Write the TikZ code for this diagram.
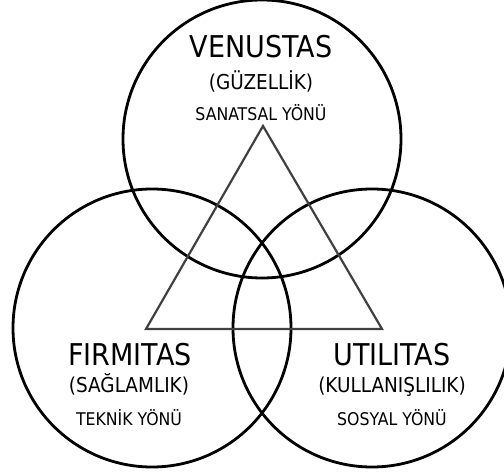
\documentclass[tikz,border=0pt]{standalone}
\usepackage{fontspec}
\setmainfont{DejaVu Sans Condensed}
\begin{document}
\begin{tikzpicture}
    [
    x=1pt,y=1pt,
    ring/.style={circle,draw=black,line width=2.8pt,inner sep=0pt,minimum size=278pt},
    edge/.style={line width=2.2pt,draw=black!75,line join=miter},
    big/.style={anchor=base,inner sep=0pt,font=\fontsize{30}{30}\selectfont},
    mid/.style={anchor=base,inner sep=0pt,font=\fontsize{20.5}{20.5}\selectfont},
    small/.style={anchor=base,inner sep=0pt,font=\fontsize{17.5}{17.5}\selectfont}
    ]
    \useasboundingbox (0,0) rectangle (504,475);
    \node (VEN) at (262,336) [ring] {};
    \node (FIRM) at (152,147) [ring] {};
    \node (UTIL) at (372,147) [ring] {};
    \coordinate (T0) at (263,349);
    \coordinate (T1) at (146,146);
    \coordinate (T2) at (382,146);
    \draw [edge] (T0) -- (T1) -- (T2) -- cycle;
    \node (V1) at (261,417) [big] {VENUSTAS};
    \node (V2) at (261,385) [mid] {(GÜZELLİK)};
    \node (V3) at (261,354) [small] {SANATSAL YÖNÜ};
    \node (F1) at (130,110) [big] {FIRMITAS};
    \node (F2) at (129,83) [mid] {(SAĞLAMLIK)};
    \node (F3) at (129,50) [small] {TEKNİK YÖNÜ};
    \node (U1) at (392,110) [big] {UTILITAS};
    \node (U2) at (392,83) [mid] {(KULLANIŞLILIK)};
    \node (U3) at (392,50) [small] {SOSYAL YÖNÜ};
  \end{tikzpicture}
\end{document}
